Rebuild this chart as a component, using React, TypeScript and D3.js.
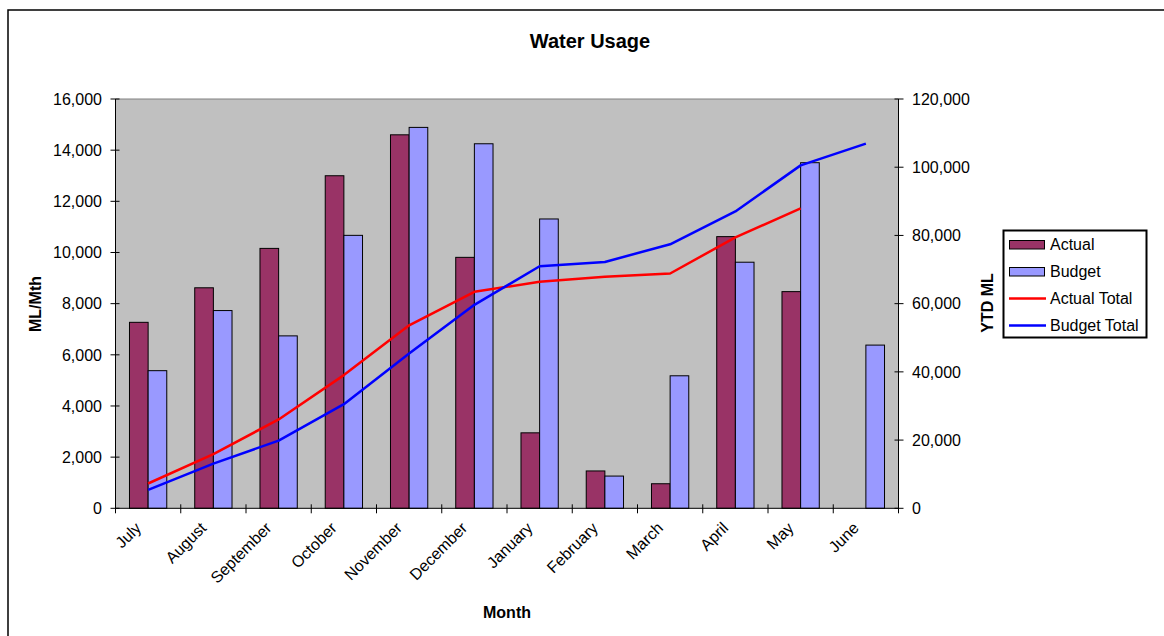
import React from 'react';
import * as d3 from 'd3';

const months = ['July', 'August', 'September', 'October', 'November', 'December', 'January', 'February', 'March', 'April', 'May', 'June'];
const actual = [7270, 8620, 10160, 13000, 14600, 9810, 2950, 1460, 960, 10620, 8470, null];
const budget = [5380, 7730, 6740, 10670, 14890, 14250, 11310, 1260, 5180, 9620, 13510, 6380];
const actualTotal = [7270, 15890, 26050, 39050, 53650, 63460, 66410, 67870, 68830, 79450, 87920, null];
const budgetTotal = [5380, 13110, 19850, 30520, 45410, 59660, 70970, 72230, 77410, 87030, 100540, 106920];
const leftTicks = [0, 2000, 4000, 6000, 8000, 10000, 12000, 14000, 16000];
const rightTicks = [0, 20000, 40000, 60000, 80000, 100000, 120000];

const legendItems = [
  { label: 'Actual', type: 'bar', color: '#993366' },
  { label: 'Budget', type: 'bar', color: '#9999FF' },
  { label: 'Actual Total', type: 'line', color: '#FF0000' },
  { label: 'Budget Total', type: 'line', color: '#0000FF' },
];

const W = 1164, H = 636;
const plot = { left: 115.5, right: 898.5, top: 99, bottom: 508.3 };
const font = 'Arial, "Liberation Sans", Helvetica, sans-serif';
const fmt = d3.format(',');

export default function App() {
  const x = d3.scaleBand<string>().domain(months).range([plot.left, plot.right]);
  const yL = d3.scaleLinear().domain([0, 16000]).range([plot.bottom, plot.top]);
  const yR = d3.scaleLinear().domain([0, 120000]).range([plot.bottom, plot.top]);
  const bw = x.bandwidth() / 3.5;
  const cx = (m: string) => (x(m) as number) + x.bandwidth() / 2;

  const line = d3.line<number | null>()
    .defined(d => d != null)
    .x((_, i) => cx(months[i]))
    .y(d => yR(d as number));

  const tickEdges = months.map(m => x(m) as number).concat([plot.right]);

  return (
    <div style={{ position: 'absolute', left: 0, top: 0 }}>
      <svg width={W} height={H} style={{ display: 'block' }} fontFamily={font}>
        <rect x={0} y={0} width={W} height={H} fill="#fff" />
        <rect x={8} y={10} width={W + 20} height={H + 20} fill="none" stroke="#000" strokeWidth={1.5} />

        <text x={590} y={48} textAnchor="middle" fontSize={20} fontWeight="bold">Water Usage</text>

        {/* plot area */}
        <rect x={plot.left} y={plot.top} width={plot.right - plot.left} height={plot.bottom - plot.top} fill="#C0C0C0" />
        <line x1={plot.left} x2={plot.right} y1={plot.top} y2={plot.top} stroke="#808080" strokeWidth={1} />

        {/* bars */}
        {months.map((m, i) => (
          <g key={m}>
            {actual[i] != null && (
              <rect x={cx(m) - bw} y={yL(actual[i] as number)} width={bw} height={plot.bottom - yL(actual[i] as number)}
                fill="#993366" stroke="#000" strokeWidth={1} />
            )}
            <rect x={cx(m)} y={yL(budget[i])} width={bw} height={plot.bottom - yL(budget[i])}
              fill="#9999FF" stroke="#000" strokeWidth={1} />
          </g>
        ))}

        {/* total lines */}
        <path d={line(actualTotal) as string} fill="none" stroke="#FF0000" strokeWidth={2.5} strokeLinejoin="round" />
        <path d={line(budgetTotal) as string} fill="none" stroke="#0000FF" strokeWidth={2.5} strokeLinejoin="round" />

        {/* axes */}
        <line x1={plot.left} x2={plot.left} y1={plot.top} y2={plot.bottom} stroke="#000" />
        <line x1={plot.right} x2={plot.right} y1={plot.top} y2={plot.bottom} stroke="#000" />
        <line x1={plot.left} x2={plot.right} y1={plot.bottom} y2={plot.bottom} stroke="#000" />

        {leftTicks.map(t => (
          <g key={'l' + t}>
            <line x1={plot.left - 5} x2={plot.left + 4} y1={yL(t)} y2={yL(t)} stroke="#000" />
            <text x={102} y={yL(t)} dy="0.36em" textAnchor="end" fontSize={16}>{fmt(t)}</text>
          </g>
        ))}
        {rightTicks.map(t => (
          <g key={'r' + t}>
            <line x1={plot.right - 4} x2={plot.right + 5} y1={yR(t)} y2={yR(t)} stroke="#000" />
            <text x={912} y={yR(t)} dy="0.36em" textAnchor="start" fontSize={16}>{fmt(t)}</text>
          </g>
        ))}
        {tickEdges.map((e, i) => (
          <line key={'x' + i} x1={e} x2={e} y1={plot.bottom - 4} y2={plot.bottom + 5} stroke="#000" />
        ))}
        {months.map(m => (
          <text key={'t' + m} transform={`translate(${cx(m) - 6},${529}) rotate(-45)`} textAnchor="end" fontSize={16}>{m}</text>
        ))}

        <text x={507} y={618} textAnchor="middle" fontSize={16} fontWeight="bold">Month</text>
        <text transform={`translate(41,304) rotate(-90)`} textAnchor="middle" fontSize={16} fontWeight="bold">ML/Mth</text>
        <text transform={`translate(993,303) rotate(-90)`} textAnchor="middle" fontSize={16} fontWeight="bold">YTD ML</text>

        {/* legend */}
        <rect x={1003.5} y={230.5} width={143} height={107} fill="#fff" stroke="#000" strokeWidth={2} />
        {legendItems.map((d, i) => {
          const yy = 244.5 + i * 27;
          return (
            <g key={d.label}>
              {d.type === 'bar'
                ? <rect x={1009.5} y={yy - 4} width={35} height={8.5} fill={d.color} stroke="#000" strokeWidth={1} />
                : <line x1={1009} x2={1046} y1={yy} y2={yy} stroke={d.color} strokeWidth={2.5} />}
              <text x={1050} y={yy} dy="0.36em" fontSize={16}>{d.label}</text>
            </g>
          );
        })}
      </svg>
    </div>
  );
}
